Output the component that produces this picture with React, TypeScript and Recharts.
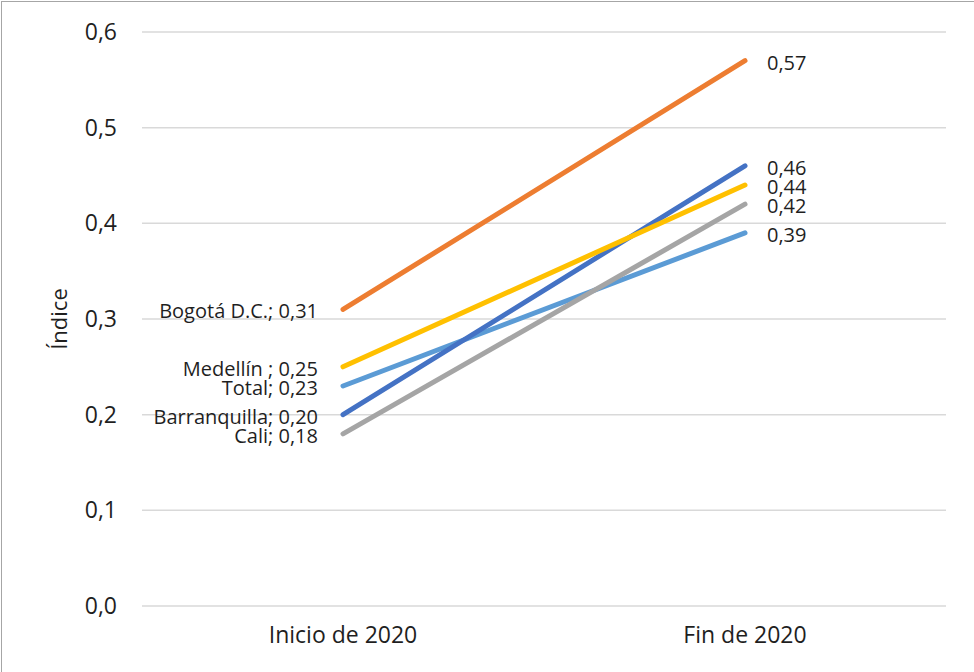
import React from "react";
import { LineChart, Line, XAxis, YAxis, CartesianGrid, LabelList } from "recharts";

const categories = ["Inicio de 2020", "Fin de 2020"];
const seriesNames = ["Total", "Barranquilla", "Medellín ", "Cali", "Bogotá D.C."];
const totalValues = [0.23, 0.39];
const barranquillaValues = [0.2, 0.46];
const medellinValues = [0.25, 0.44];
const caliValues = [0.18, 0.42];
const bogotaValues = [0.31, 0.57];
const yTicks = [0, 0.1, 0.2, 0.3, 0.4, 0.5, 0.6];

const seriesKeys = ["total", "barranquilla", "medellin", "cali", "bogota"];
const seriesValues = [totalValues, barranquillaValues, medellinValues, caliValues, bogotaValues];
const seriesColors = ["#5B9BD5", "#4472C4", "#FFC000", "#A5A5A5", "#ED7D31"];

const data = categories.map((c, i) => {
  const row: any = { category: c };
  seriesKeys.forEach((k, j) => {
    row[k] = seriesValues[j][i];
  });
  return row;
});

const fmt = (v: number, d: number) => v.toFixed(d).replace(".", ",");
const FONT = "'Open Sans', 'Noto Sans', sans-serif";

const makeLabel = (name: string) => (props: any) => {
  const { x, y, value, index } = props;
  if (index === 0) {
    return (
      <text x={x - 25} y={y + 2} dy="0.35em" textAnchor="end" fontSize={20} fontFamily={FONT} fill="#1f1f1f">
        {`${name}; ${fmt(value, 2)}`}
      </text>
    );
  }
  return (
    <text x={x + 22} y={y + 2} dy="0.35em" textAnchor="start" fontSize={20} fontFamily={FONT} fill="#1f1f1f">
      {fmt(value, 2)}
    </text>
  );
};

export default function App() {
  return (
    <div style={{ position: "fixed", left: 0, top: 0, width: 974, height: 672, background: "#fff", overflow: "hidden" }}>
      <div
        style={{
          position: "absolute",
          left: 1,
          top: 1,
          width: 1000,
          height: 700,
          border: "1.5px solid #a6a6a6",
          boxSizing: "border-box",
        }}
      />
      <div style={{ position: "absolute", left: 0, top: 0 }}>
        <LineChart width={974} height={672} data={data} margin={{ top: 32, right: 28, bottom: 16, left: 0 }}>
          <CartesianGrid vertical={false} stroke="#d9d9d9" strokeWidth={1.5} />
          <XAxis
            dataKey="category"
            axisLine={false}
            tickLine={false}
            tickSize={0}
            tickMargin={21}
            height={50}
            padding={{ left: 201, right: 201 }}
            tick={{ fontSize: 23, fontFamily: FONT, fill: "#1f1f1f" }}
          />
          <YAxis
            domain={[0, 0.6]}
            ticks={yTicks}
            width={142}
            axisLine={false}
            tickLine={false}
            tickSize={0}
            tickMargin={25}
            tickFormatter={(v: number) => fmt(v, 1)}
            tick={{ fontSize: 23, fontFamily: FONT, fill: "#1f1f1f" }}
            label={(p: any) => {
              const vb = p.viewBox;
              const cx = vb.x + 58;
              const cy = vb.y + vb.height / 2;
              return (
                <text
                  x={cx}
                  y={cy}
                  transform={`rotate(-90, ${cx}, ${cy})`}
                  textAnchor="middle"
                  dominantBaseline="central"
                  fontSize={22}
                  fontFamily={FONT}
                  fill="#1f1f1f"
                >
                  Índice
                </text>
              );
            }}
          />
          {seriesKeys.map((k, j) => (
            <Line
              key={k}
              dataKey={k}
              name={seriesNames[j]}
              stroke={seriesColors[j]}
              strokeWidth={5}
              strokeLinecap="round"
              dot={false}
              activeDot={false}
              isAnimationActive={false}
            >
              <LabelList dataKey={k} content={makeLabel(seriesNames[j])} />
            </Line>
          ))}
        </LineChart>
      </div>
    </div>
  );
}
